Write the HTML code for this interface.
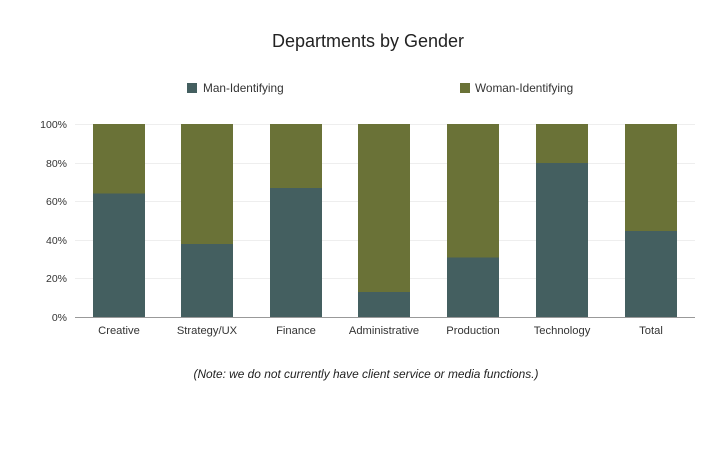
<!DOCTYPE html>
<html><head><meta charset="utf-8"><style>
html,body{margin:0;padding:0;background:#fff;}
svg{display:block;font-family:"Liberation Sans",sans-serif;}
</style></head><body>
<svg width="727" height="452" viewBox="0 0 727 452" xmlns="http://www.w3.org/2000/svg">
<rect width="727" height="452" fill="#fff"/>
<text x="368" y="47" text-anchor="middle" font-size="18" fill="#222">Departments by Gender</text>
<rect x="187" y="83" width="10" height="10" fill="#445f60"/>
<text x="203" y="92" font-size="11.8" fill="#333">Man-Identifying</text>
<rect x="460" y="83" width="10" height="10" fill="#6a7237"/>
<text x="475" y="92" font-size="11.8" fill="#333">Woman-Identifying</text>
<g stroke="#eee" stroke-width="1">
<line x1="75" x2="695" y1="124.5" y2="124.5"/>
<line x1="75" x2="695" y1="163.5" y2="163.5"/>
<line x1="75" x2="695" y1="201.5" y2="201.5"/>
<line x1="75" x2="695" y1="240.5" y2="240.5"/>
<line x1="75" x2="695" y1="278.5" y2="278.5"/>
</g>
<g font-size="10.5" fill="#333" text-anchor="end">
<text x="67" y="128">100%</text>
<text x="67" y="167">80%</text>
<text x="67" y="205">60%</text>
<text x="67" y="244">40%</text>
<text x="67" y="282">20%</text>
<text x="67" y="321">0%</text>
</g>
<g>
<rect x="93" y="124" width="52" height="193" fill="#6a7237"/><rect x="93" y="193.5" width="52" height="123.5" fill="#445f60"/>
<rect x="181" y="124" width="52" height="193" fill="#6a7237"/><rect x="181" y="244" width="52" height="73" fill="#445f60"/>
<rect x="270" y="124" width="52" height="193" fill="#6a7237"/><rect x="270" y="188" width="52" height="129" fill="#445f60"/>
<rect x="358" y="124" width="52" height="193" fill="#6a7237"/><rect x="358" y="292" width="52" height="25" fill="#445f60"/>
<rect x="447" y="124" width="52" height="193" fill="#6a7237"/><rect x="447" y="257.5" width="52" height="59.5" fill="#445f60"/>
<rect x="536" y="124" width="52" height="193" fill="#6a7237"/><rect x="536" y="163" width="52" height="154" fill="#445f60"/>
<rect x="625" y="124" width="52" height="193" fill="#6a7237"/><rect x="625" y="231" width="52" height="86" fill="#445f60"/>
</g>
<line x1="75" x2="695" y1="317.5" y2="317.5" stroke="#999" stroke-width="1"/>
<g font-size="11.2" fill="#333" text-anchor="middle">
<text x="119" y="334">Creative</text>
<text x="207" y="334">Strategy/UX</text>
<text x="296" y="334">Finance</text>
<text x="384" y="334">Administrative</text>
<text x="473" y="334">Production</text>
<text x="562" y="334">Technology</text>
<text x="651" y="334">Total</text>
</g>
<text x="366" y="378" text-anchor="middle" font-size="11.9" font-style="italic" fill="#222">(Note: we do not currently have client service or media functions.)</text>
</svg>
</body></html>
